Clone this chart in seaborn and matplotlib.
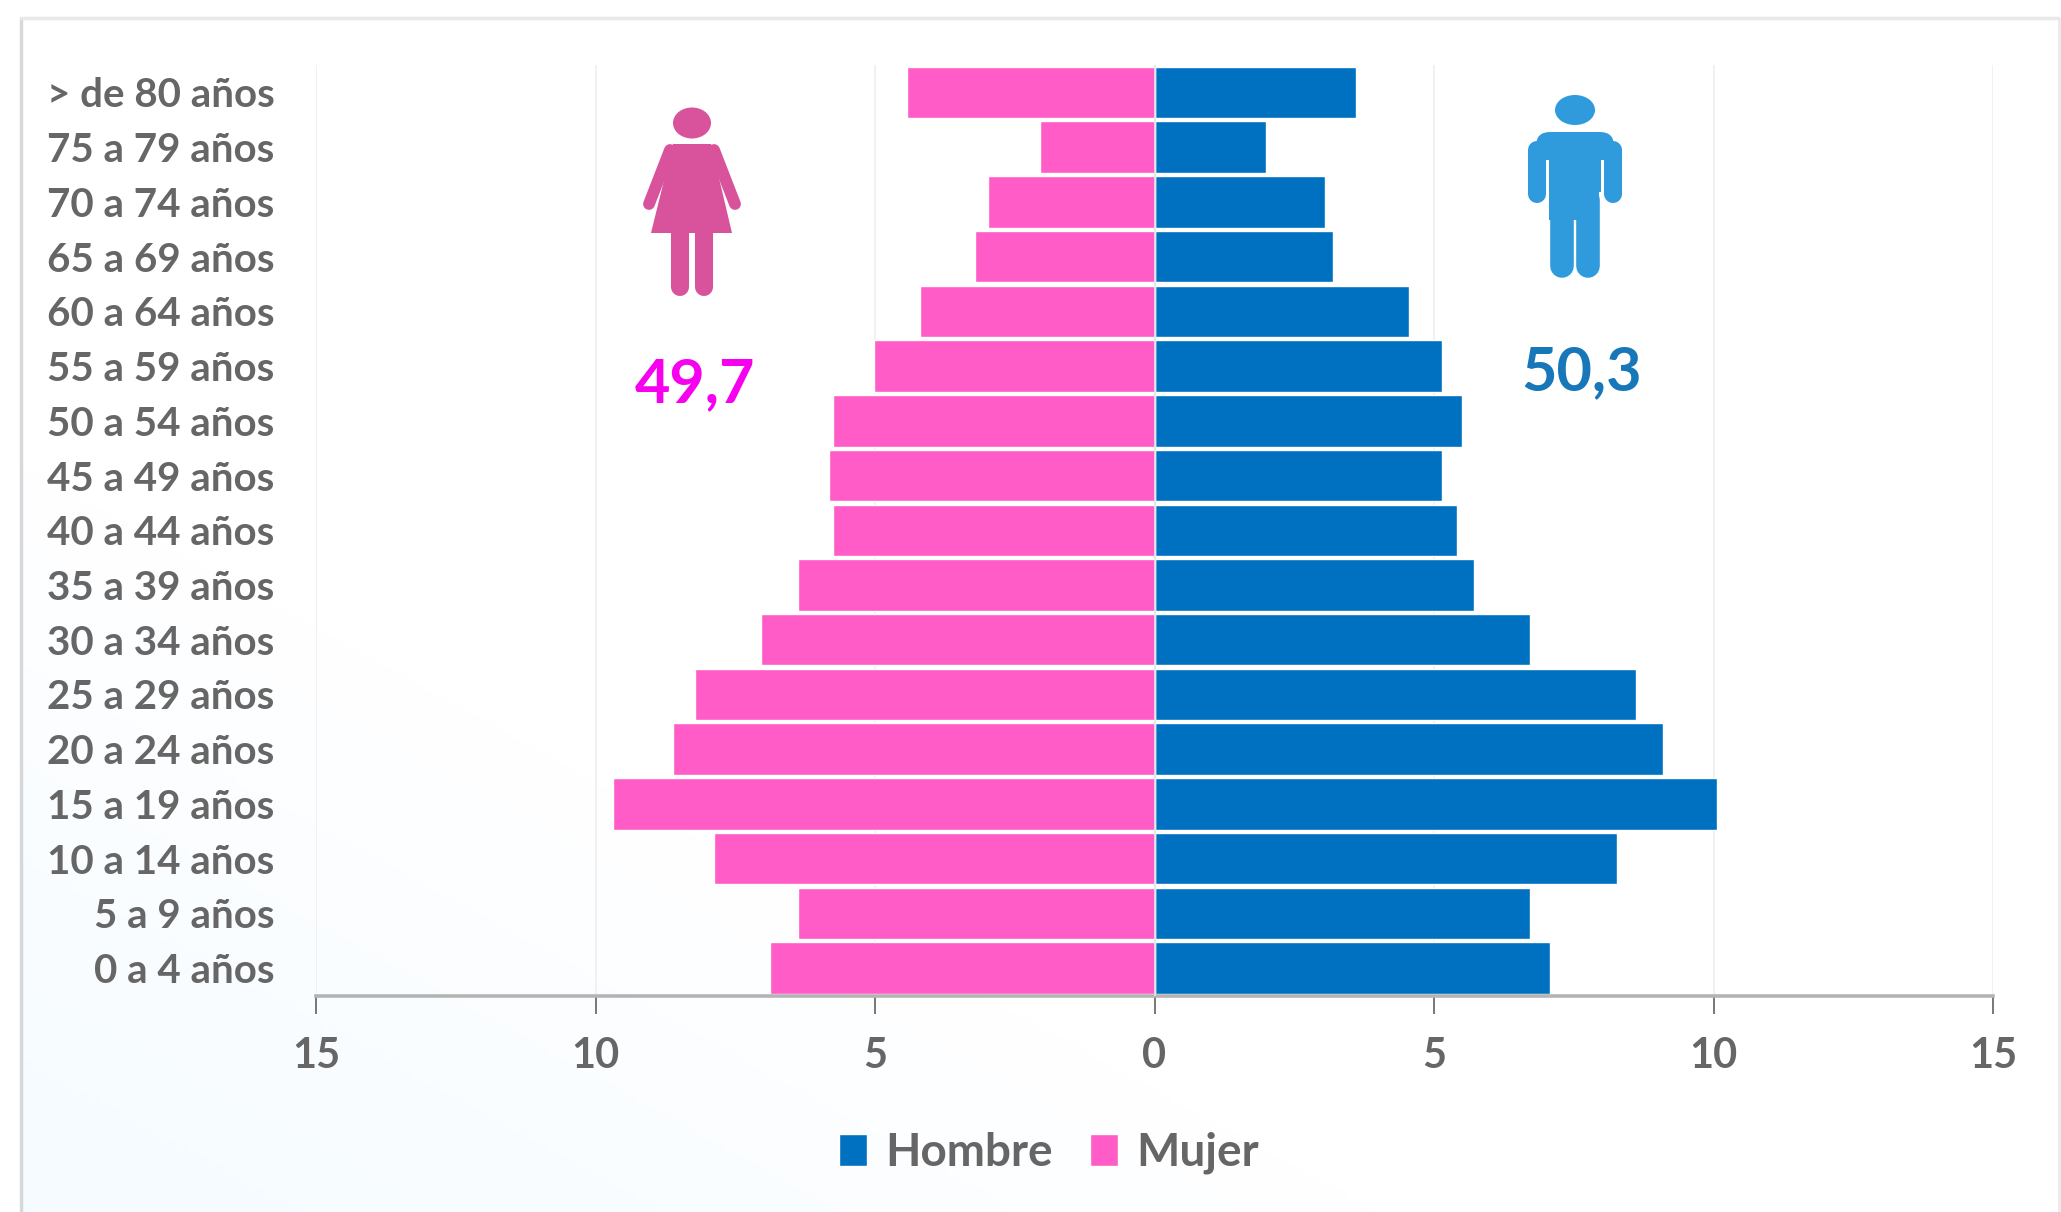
import numpy as np
import pandas as pd
import matplotlib
matplotlib.use('Agg')
import matplotlib.pyplot as plt
import seaborn as sns
from matplotlib.patches import Ellipse, FancyBboxPatch, Polygon, Rectangle

edades = ['> de 80 años', '75 a 79 años', '70 a 74 años', '65 a 69 años', '60 a 64 años',
          '55 a 59 años', '50 a 54 años', '45 a 49 años', '40 a 44 años', '35 a 39 años',
          '30 a 34 años', '25 a 29 años', '20 a 24 años', '15 a 19 años', '10 a 14 años',
          '5 a 9 años', '0 a 4 años']
hombre = [3.6, 2.0, 3.05, 3.2, 4.55, 5.15, 5.5, 5.15, 5.42, 5.72, 6.72, 8.62, 9.1, 10.07, 8.28, 6.72, 7.08]
mujer = [4.42, 2.05, 2.98, 3.22, 4.2, 5.02, 5.75, 5.82, 5.75, 6.37, 7.04, 8.22, 8.62, 9.68, 7.88, 6.37, 6.87]
ticks = [-15, -10, -5, 0, 5, 10, 15]
tick_labels = ['15', '10', '5', '0', '5', '10', '15']
total_mujer = '49,7'
total_hombre = '50,3'

AZUL = '#0070C0'
ROSA = '#FF5CC8'
GRIS = '#666666'
W, H = 2061, 1212

df = pd.concat([
    pd.DataFrame({'edad': edades, 'valor': hombre, 'sexo': 'Hombre'}),
    pd.DataFrame({'edad': edades, 'valor': [-v for v in mujer], 'sexo': 'Mujer'}),
])

sns.set_theme(style='white')
plt.rcParams['font.family'] = ['Lato', 'DejaVu Sans']

fig = plt.figure(figsize=(W / 100, H / 100), dpi=100, facecolor='white')

# faint blue wash in the lower left of the card
bg = fig.add_axes([0, 0, 1, 1], zorder=0)
yy, xx = np.mgrid[0:1:200j, 0:1:350j]
wash = np.clip(1.0 - xx * 1.5 - (1 - yy) * 1.6, 0, 1)
colors = np.ones((200, 350, 3))
colors[..., 0] -= 0.04 * wash
colors[..., 1] -= 0.015 * wash
bg.imshow(colors, extent=(0, W, H, 0), aspect='auto')
bg.set_xlim(0, W)
bg.set_ylim(H, 0)
bg.axis('off')
bg.add_patch(Rectangle((-10, 0), 10 + 21, H, color='white', lw=0))
bg.add_patch(Rectangle((0, 0), W, 18, color='white', lw=0))
bg.plot([21, 21], [H, 18], color='#D6D9DC', lw=2.5)
bg.plot([21, 2058], [18, 18], color='#E6E8EA', lw=2.5)
bg.plot([2059, 2059], [18, H], color='#E9EAEB', lw=2)

# pyramid
ax = fig.add_axes([316 / W, 1 - 995.5 / H, (1993 - 316) / W, (995.5 - 65) / H], zorder=1)
ax.patch.set_alpha(0)
sns.barplot(data=df, x='valor', y='edad', hue='sexo', hue_order=['Hombre', 'Mujer'],
            palette=[AZUL, ROSA], dodge=False, width=0.94, saturation=1, ax=ax)
ax.set_xlim(-15, 15)
ax.set_ylim(16.5, -0.5)
ax.set_xticks(ticks)
ax.set_xticklabels(tick_labels)
ax.set_xlabel('')
ax.set_ylabel('')
ax.grid(axis='x', color='#EFEFEF', lw=1.2)
ax.set_axisbelow(True)
for s in ['top', 'left', 'right']:
    ax.spines[s].set_visible(False)
ax.spines['bottom'].set_color('#B4B4B4')
ax.spines['bottom'].set_linewidth(2.6)
ax.tick_params(axis='x', bottom=True, length=13, width=1.4, color='#777777', pad=17,
               labelsize=30, labelcolor=GRIS)
ax.tick_params(axis='y', length=0, pad=30, labelsize=29, labelcolor=GRIS)
for t in ax.get_xticklabels() + ax.get_yticklabels():
    t.set_fontweight('bold')
    t.set_y(t.get_position()[1])
ax.axvline(0, color='#DDE6EE', lw=1.2, zorder=5)

leg = ax.legend(loc='center', bbox_to_anchor=(1049 / W, 1 - 1153 / H),
                bbox_transform=fig.transFigure, ncol=2, frameon=False,
                handlelength=0.62, handleheight=0.7, handletextpad=0.4,
                columnspacing=0.8, prop={'size': 33, 'weight': 'bold'}, labelcolor=GRIS)

# icons and totals, placed in image pixels
ov = fig.add_axes([0, 0, 1, 1], zorder=2)
ov.set_xlim(0, W)
ov.set_ylim(H, 0)
ov.axis('off')
ov.patch.set_alpha(0)

c = '#D9529C'
ov.add_patch(Ellipse((692, 123), 38, 31, color=c, lw=0))
ov.add_patch(Polygon([(673, 144), (711, 144), (732, 233), (651, 233)], closed=True, color=c, lw=0))
ov.plot([670, 649], [150, 204], color=c, lw=8.5, solid_capstyle='round')
ov.plot([714, 735], [150, 204], color=c, lw=8.5, solid_capstyle='round')
for x in [680, 704]:
    ov.plot([x, x], [230, 287], color=c, lw=13, solid_capstyle='round')

c = '#2F9BDC'
ov.add_patch(Ellipse((1575, 110), 40, 30, color=c, lw=0))
ov.add_patch(FancyBboxPatch((1536, 132), 78, 60, boxstyle='round,pad=0,rounding_size=14', color=c, lw=0))
ov.add_patch(Rectangle((1549, 170), 50, 50, color=c, lw=0))
for x in [1537, 1613]:
    ov.plot([x, x], [150, 194], color=c, lw=13, solid_capstyle='round')
for x in [1562, 1588]:
    ov.plot([x, x], [200, 266], color=c, lw=17, solid_capstyle='round')
ov.add_patch(Rectangle((1546, 160), 3, 40, color='white', lw=0))
ov.add_patch(Rectangle((1601, 160), 3, 40, color='white', lw=0))

ov.text(695, 384, total_mujer, color='#F700F0', fontsize=44, fontweight='bold', ha='center', va='center')
ov.text(1582, 372, total_hombre, color='#1877B8', fontsize=44, fontweight='bold', ha='center', va='center')

fig.savefig('out.png', dpi=100, facecolor='white')
